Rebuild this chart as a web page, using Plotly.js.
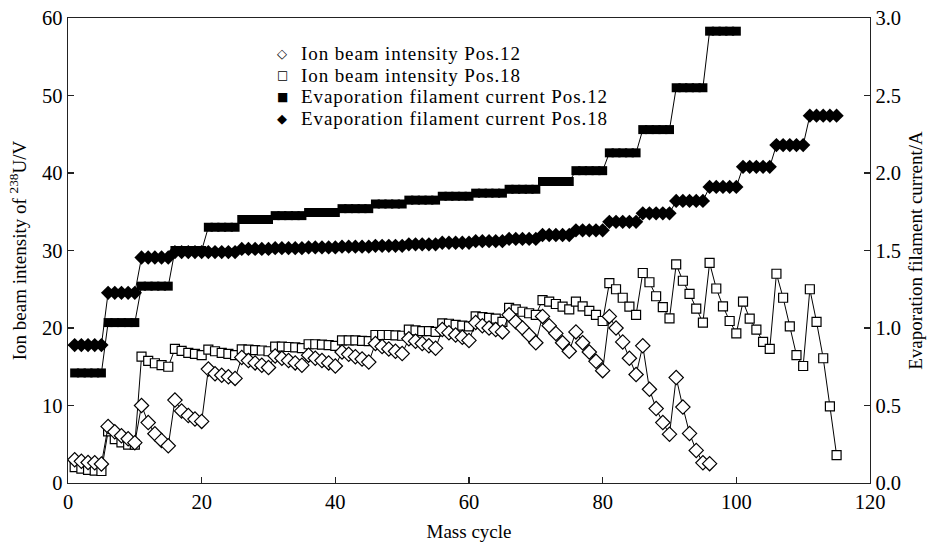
<!DOCTYPE html>
<html><head><meta charset="utf-8">
<script src="https://cdn.plot.ly/plotly-3.0.1.min.js"></script>
<style>html,body{margin:0;padding:0;background:#fff}
.annotation-text{letter-spacing:0.9px}</style>
</head><body><div id="chart" style="width:933px;height:545px"></div>
<script>
// Mass cycle numbers
const massCycle = [1,2,3,4,5,6,7,8,9,10,11,12,13,14,15,16,17,18,19,20,
  21,22,23,24,25,26,27,28,29,30,31,32,33,34,35,36,37,38,39,40,
  41,42,43,44,45,46,47,48,49,50,51,52,53,54,55,56,57,58,59,60,
  61,62,63,64,65,66,67,68,69,70,71,72,73,74,75,76,77,78,79,80,
  81,82,83,84,85,86,87,88,89,90,91,92,93,94,95,96,97,98,99,100,
  101,102,103,104,105,106,107,108,109,110,111,112,113,114,115];

// Ion beam intensity of 238U (V), position 12
const ionPos12 = [3.0,2.8,2.65,2.6,2.45, 7.3,6.6,6.1,5.7,5.2, 10.0,7.8,6.35,5.5,4.8,
  10.7,9.3,8.7,8.25,7.95, 14.7,14.1,13.9,13.7,13.5, 16.2,15.8,15.5,15.2,14.9,
  16.4,16.1,15.8,15.5,15.2, 16.5,16.1,15.8,15.5,15.1, 16.9,16.6,16.3,16.0,15.6,
  18.0,17.6,17.3,17.0,16.7, 18.6,18.3,18.0,17.7,17.4, 19.8,19.4,19.1,18.8,18.4,
  20.7,20.3,20.0,19.8,19.5, 21.7,20.8,20.0,19.1,18.1, 21.5,20.3,19.3,18.1,17.0,
  19.5,18.1,16.9,15.7,14.5, 21.5,20.0,18.2,16.1,14.0, 17.7,12.1,9.6,7.8,6.3,
  13.6,9.8,6.4,4.2,2.6, 2.5];

// Ion beam intensity of 238U (V), position 18
const ionPos18 = [2.05,1.85,1.7,1.6,1.55, 6.65,5.65,5.25,4.95,4.95, 16.3,15.75,15.45,15.2,15.0,
  17.3,17.05,16.8,16.65,16.5, 17.2,17.0,16.8,16.65,16.5, 17.25,17.2,17.15,17.1,17.0,
  17.6,17.6,17.55,17.5,17.4, 17.9,17.9,17.85,17.8,17.7, 18.4,18.4,18.4,18.35,18.3,
  19.1,19.1,19.1,19.05,19.0, 19.8,19.7,19.6,19.6,19.5, 20.6,20.55,20.4,20.3,20.2,
  21.5,21.4,21.3,21.2,20.8, 22.6,22.4,22.1,21.9,21.7, 23.6,23.4,23.1,22.75,22.4,
  23.4,22.8,22.2,21.7,20.9, 25.8,25.0,23.9,22.75,21.7, 27.1,25.9,24.1,22.7,21.25,
  28.2,26.1,24.4,22.5,20.7, 28.4,25.1,22.8,20.9,19.3, 23.4,21.2,19.8,18.2,17.3,
  27.0,23.9,20.2,16.5,15.1, 25.0,20.8,16.1,9.9,3.6];

// Evaporation filament current (A), position 12
const evapPos12 = [0.71,0.71,0.71,0.71,0.71, 1.035,1.035,1.035,1.035,1.035, 1.27,1.27,1.27,1.27,1.27,
  1.5,1.5,1.5,1.5,1.5, 1.65,1.65,1.65,1.65,1.65, 1.70,1.70,1.70,1.70,1.70,
  1.725,1.725,1.725,1.725,1.725, 1.745,1.745,1.745,1.745,1.745, 1.77,1.77,1.77,1.77,1.77,
  1.80,1.80,1.80,1.80,1.80, 1.825,1.825,1.825,1.825,1.825, 1.85,1.85,1.85,1.85,1.85,
  1.87,1.87,1.87,1.87,1.87, 1.895,1.895,1.895,1.895,1.895, 1.945,1.945,1.945,1.945,1.945,
  2.015,2.015,2.015,2.015,2.015, 2.13,2.13,2.13,2.13,2.13, 2.28,2.28,2.28,2.28,2.28,
  2.55,2.55,2.55,2.55,2.55, 2.915,2.915,2.915,2.915,2.915];

// Evaporation filament current (A), position 18
const evapPos18 = [0.89,0.89,0.89,0.89,0.89, 1.227,1.227,1.227,1.227,1.227, 1.455,1.455,1.455,1.455,1.455,
  1.49,1.49,1.49,1.49,1.49, 1.49,1.49,1.49,1.49,1.49, 1.51,1.51,1.51,1.51,1.51,
  1.515,1.515,1.515,1.515,1.515, 1.52,1.52,1.52,1.52,1.52, 1.525,1.525,1.525,1.525,1.525,
  1.53,1.53,1.53,1.53,1.53, 1.54,1.54,1.54,1.54,1.54, 1.55,1.55,1.55,1.55,1.55,
  1.56,1.56,1.56,1.56,1.56, 1.575,1.575,1.575,1.575,1.575, 1.60,1.60,1.60,1.60,1.60,
  1.63,1.63,1.63,1.63,1.63, 1.685,1.685,1.685,1.685,1.685, 1.74,1.74,1.74,1.74,1.74,
  1.82,1.82,1.82,1.82,1.82, 1.91,1.91,1.91,1.91,1.91, 2.04,2.04,2.04,2.04,2.04,
  2.18,2.18,2.18,2.18,2.18, 2.37,2.37,2.37,2.37,2.37];

const seriesNames = ['Ion beam intensity Pos.12','Ion beam intensity Pos.18',
  'Evaporation filament current Pos.12','Evaporation filament current Pos.18'];
const legendGlyphs = ['\u25C7','\u25A1','\u25A0','\u25C6'];
const legendGlyphSizes = [13,12,12,13];

const FONT = 'Liberation Serif, Times New Roman, serif';
const lineStyle = {color:'#000', width:1};

const traces = [
  {x: massCycle.slice(0, evapPos12.length), y: evapPos12, yaxis:'y2', name: seriesNames[2],
   mode:'lines+markers', line: lineStyle, showlegend:false,
   marker:{symbol:'square', size:9, color:'#000', line:{width:0}}},
  {x: massCycle.slice(0, evapPos18.length), y: evapPos18, yaxis:'y2', name: seriesNames[3],
   mode:'lines+markers', line: lineStyle, showlegend:false,
   marker:{symbol:'diamond', size:11, color:'#000', line:{width:0}}},
  {x: massCycle.slice(0, ionPos18.length), y: ionPos18, name: seriesNames[1],
   mode:'lines+markers', line: lineStyle, showlegend:false,
   marker:{symbol:'square', size:9, color:'#fff', line:{color:'#000', width:1.2}}},
  {x: massCycle.slice(0, ionPos12.length), y: ionPos12, name: seriesNames[0],
   mode:'lines+markers', line: lineStyle, showlegend:false,
   marker:{symbol:'diamond', size:11, color:'#fff', line:{color:'#000', width:1.2}}}
];

const axisCommon = {
  showline:true, linecolor:'#222', linewidth:1.3, ticks:'inside', ticklen:6,
  tickcolor:'#222', tickwidth:1.2, showgrid:false, zeroline:false,
  tickfont:{family:FONT, size:20.5, color:'#000'}
};

// legend drawn as compact text rows in the upper-left area of the plot
const legendRowY = [0.9231, 0.8769, 0.8306, 0.7844];
const annotations = [];
seriesNames.forEach((nm, i) => {
  annotations.push({xref:'paper', yref:'paper', x:0.268, y:legendRowY[i], xanchor:'center', yanchor:'middle',
    text:legendGlyphs[i], showarrow:false, borderpad:0,
    font:{family:'DejaVu Sans', size:legendGlyphSizes[i], color:'#000'}});
  annotations.push({xref:'paper', yref:'paper', x:0.289, y:legendRowY[i], xanchor:'left', yanchor:'middle',
    text:nm, showarrow:false, borderpad:0,
    font:{family:FONT, size:19, color:'#000'}});
});

const layout = {
  width:933, height:545,
  margin:{l:68, r:63, t:18, b:62},
  paper_bgcolor:'#fff', plot_bgcolor:'#fff',
  font:{family:FONT, color:'#000'},
  showlegend:false,
  xaxis: Object.assign({}, axisCommon, {
    range:[0,120], dtick:20, tick0:0, mirror:true,
    title:{text:'Mass cycle', font:{family:FONT, size:19}, standoff:12}
  }),
  yaxis: Object.assign({}, axisCommon, {
    range:[0,60], dtick:10, tick0:0,
    title:{text:'Ion beam intensity of <sup>238</sup>U/V', font:{family:FONT, size:19}, standoff:10}
  }),
  yaxis2: Object.assign({}, axisCommon, {
    range:[0,3], dtick:0.5, tick0:0, tickformat:'.1f', overlaying:'y', side:'right',
    title:{text:'Evaporation filament current/A', font:{family:FONT, size:19}, standoff:8}
  }),
  annotations: annotations
};

Plotly.newPlot('chart', traces, layout, {displayModeBar:false, staticPlot:true});
</script>
</body></html>
